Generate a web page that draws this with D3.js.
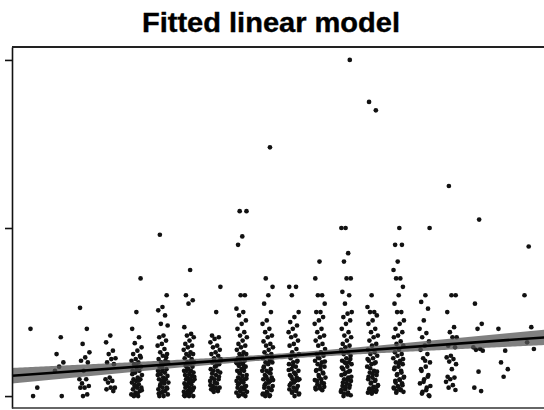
<!DOCTYPE html>
<html>
<head>
<meta charset="utf-8">
<script src="https://cdn.jsdelivr.net/npm/d3@7"></script>
<style>
  body { margin: 0; background: #fff; }
  svg { display: block; }
</style>
</head>
<body>
<div id="chart"></div>
<script>
// groups on the x axis (one jittered column each)
var groups = [1, 2, 3, 4, 5, 6, 7, 8, 9, 10, 11, 12, 13, 14, 15, 16, 17, 18, 19, 20];

// y values per group
var y01 = [4, 0.5, 0];
var y02 = [3.5, 2.5, 2, 1.75, 1.5, 0];
var y03 = [5.25, 4, 3.1, 2.6, 2.3, 2.1, 2, 1.5, 1, 1, 0.75, 0.6, 0.5, 0.5, 0.1, 0];
var y04 = [3.6, 3.2, 2.7, 2.5, 2.25, 2.2, 2, 1.9, 1.1, 1, 0.9, 0.8, 0.5, 0.5, 0.4, 0.3];
var y05 = [7, 5, 4, 3.5, 3.15, 2.9, 2.7, 2.5, 2.4, 2.2, 2.1, 2, 1.9, 1.75, 1.6, 1.5, 1.5, 1.4, 1.25, 1.1, 1, 1, 0.9, 0.8, 0.7, 0.6, 0.5, 0.5, 0.4, 0.3, 0.2, 0.1, 0, 0,
           2.3, 1.8, 1.3, 0.95, 0.65, 0.35, 0.15, 0.05];
var y06 = [9.6, 6, 5.3, 5.1, 4.8, 4.3, 4.2, 3.6, 3.5, 3.3, 3.1, 3, 2.8, 2.6, 2.5, 2.4, 2.2, 2.1, 2, 2, 1.9, 1.75, 1.6, 1.5, 1.5, 1.4, 1.3, 1.2, 1.1, 1, 1, 0.9, 0.8, 0.75, 0.6, 0.5, 0.5, 0.4, 0.3, 0.2, 0.1, 0, 0,
           2.3, 1.7, 1.25, 0.95, 0.7, 0.45, 0.25, 0.15];
var y07 = [7.5, 6, 5.7, 5.5, 4.1, 3.7, 3.6, 3.5, 3.3, 3.1, 3, 2.9, 2.75, 2.6, 2.5, 2.5, 2.4, 2.25, 2.1, 2, 2, 1.9, 1.8, 1.75, 1.6, 1.5, 1.5, 1.5, 1.4, 1.3, 1.25, 1.2, 1.1, 1, 1, 1, 0.9, 0.8, 0.75, 0.7, 0.6, 0.5, 0.5, 0.5, 0.4, 0.3, 0.25, 0.2, 0.1, 0, 0, 0,
           2.2, 1.65, 1.15, 0.85, 0.65, 0.35, 0.15, 0.05];
var y08 = [6.5, 5, 3.6, 3.5, 3.4, 3.2, 3, 2.9, 2.75, 2.6, 2.5, 2.4, 2.25, 2.1, 2, 2, 1.9, 1.75, 1.6, 1.5, 1.5, 1.4, 1.25, 1.1, 1, 1, 0.9, 0.75, 0.6, 0.5, 0.5, 0.4, 0.3, 0.25,
           2.2, 1.8, 1.35, 1.15, 0.8, 0.65, 0.45, 0.35];
var y09 = [11, 11, 9.5, 9, 6, 6, 5.2, 5, 4.8, 4.5, 4.3, 4, 3.8, 3.6, 3.5, 3.3, 3.1, 3, 2.9, 2.75, 2.6, 2.5, 2.5, 2.4, 2.25, 2.1, 2, 2, 1.9, 1.8, 1.75, 1.6, 1.5, 1.5, 1.4, 1.25, 1.2, 1.1, 1, 1, 0.9, 0.8, 0.75, 0.6, 0.5, 0.5, 0.4, 0.3, 0.25, 0.1, 0, 0,
           2.3, 1.95, 1.7, 1.35, 1.05, 0.85, 0.7, 0.55, 0.35, 0.2, 0.15, 0.05];
var y10 = [14.8, 7, 6.5, 6, 5.5, 5, 4.5, 4.3, 4, 3.8, 3.6, 3.5, 3.25, 3.1, 3, 2.9, 2.75, 2.6, 2.5, 2.4, 2.25, 2.1, 2, 2, 1.9, 1.75, 1.6, 1.5, 1.5, 1.4, 1.25, 1.1, 1, 1, 0.9, 0.75, 0.6, 0.5, 0.5, 0.4, 0.25, 0.1, 0, 0,
           2.3, 1.95, 1.7, 1.35, 1.15, 0.95, 0.8, 0.65, 0.35, 0.2, 0.15, 0.05];
var y11 = [6.5, 6.5, 6, 5, 4.7, 4.4, 4.2, 4, 3.8, 3.6, 3.5, 3.3, 3.1, 3, 2.8, 2.6, 2.5, 2.4, 2.25, 2.1, 2, 1.9, 1.75, 1.6, 1.5, 1.4, 1.25, 1.1, 1, 1, 0.9, 0.75, 0.6, 0.5, 0.4, 0.3, 0.2, 0.1, 0,
           2.35, 2.05, 1.8, 1.55, 1.3, 1.15, 0.95, 0.8, 0.65, 0.45, 0.25, 0.15];
var y12 = [8, 7, 6, 6, 5.5, 5, 5, 4.7, 4.5, 4.3, 4, 3.8, 3.6, 3.5, 3.3, 3.1, 3, 2.8, 2.6, 2.5, 2.4, 2.25, 2.1, 2, 1.9, 1.75, 1.6, 1.5, 1.4, 1.25, 1.1, 1, 0.9, 0.75, 0.6, 0.5, 0.35,
           2.3, 2.05, 1.8, 1.55, 1.35, 1.15, 0.95, 0.8, 0.7, 0.55, 0.45, 0.4];
var y13 = [20, 10, 10, 8.5, 8, 7, 7, 6.2, 6, 5.5, 5, 4.9, 4.7, 4.5, 4.3, 4, 3.8, 3.6, 3.5, 3.3, 3.1, 3, 2.9, 2.75, 2.6, 2.5, 2.4, 2.25, 2.1, 2, 2, 1.9, 1.75, 1.6, 1.5, 1.4, 1.25, 1.1, 1, 0.9, 0.75, 0.6, 0.5, 0.4, 0.25, 0.1, 0,
           2.2, 1.95, 1.7, 1.45, 1.3, 1.15, 0.95, 0.8, 0.65, 0.55, 0.35, 0.2, 0.15, 0.05];
var y14 = [17.5, 17, 6, 5.3, 5, 5, 4.8, 4.5, 4.3, 4, 3.8, 3.6, 3.5, 3.3, 3.1, 3, 2.75, 2.6, 2.5, 2.4, 2.25, 2.1, 2, 1.9, 1.75, 1.5, 1.4, 1.25, 1.1, 1, 0.9, 0.75, 0.6, 0.5, 0.4, 0.25, 0.15,
           2.2, 1.95, 1.65, 1.45, 1.3, 1.15, 0.95, 0.8, 0.65, 0.55, 0.45, 0.35, 0.3, 0.2];
var y15 = [10, 9, 9, 8, 7.5, 7, 7, 6.5, 6, 5.5, 5, 5, 4.5, 4.3, 4, 3.8, 3.6, 3.5, 3.25, 3.1, 3, 2.75, 2.6, 2.5, 2.4, 2.25, 2.1, 2, 1.9, 1.75, 1.6, 1.5, 1.25, 1.1, 1, 0.9, 0.75, 0.6, 0.5, 0.4, 0.2,
           2.2, 1.95, 1.7, 1.4, 1.3, 1.15, 0.95, 0.8, 0.65, 0.55, 0.45, 0.35, 0.3, 0.25];
var y16 = [10, 6, 5.6, 5.2, 4.5, 4, 3.75, 3.5, 3.25, 3, 2.75, 2.5, 2.25, 2, 1.75, 1.5, 1.25, 1, 0.75, 0.5, 0.25, 0,
           2.1, 1.6, 1.15, 0.85, 0.6, 0.35, 0.15, 0.05];
var y17 = [12.5, 6, 6, 5, 4.1, 3.8, 3.5, 3.5, 3, 2.9, 2.4, 2.3, 2.2, 2.05, 1.9, 1.6, 1.15, 1.1, 1, 0.85, 0.65, 0.5, 0.36];
var y18 = [10.5, 5.5, 4.3, 4, 2.9, 2.8, 2.75, 2.7, 1.45, 0.5, 0.3];
var y19 = [4, 2.7, 2, 1.6, 1.15];
var y20 = [8.9, 6, 4.1, 3.2, 2.8];

var yByGroup = [y01, y02, y03, y04, y05, y06, y07, y08, y09, y10,
                y11, y12, y13, y14, y15, y16, y17, y18, y19, y20];

var yTicks = [0, 10, 20];
var titleText = "Fitted linear model";

var width = 544, height = 410;
var plotLeft = 12, plotTop = 47, plotBottom = 408, plotRight = 556;

var x = d3.scaleLinear().domain([0.24, 21]).range([plotLeft, plotRight]);
var y = d3.scaleLinear().domain([-0.71, 20.77]).range([plotBottom, plotTop]);

// flatten into points
var points = [];
groups.forEach((g, i) => {
    yByGroup[i].forEach((v, k) => points.push({ g: g, v: v, k: k }));
});

// least squares fit + 95% confidence band
var n = points.length;
var mx = d3.mean(points, d => d.g);
var my = d3.mean(points, d => d.v);
var sxx = d3.sum(points, d => (d.g - mx) * (d.g - mx));
var sxy = d3.sum(points, d => (d.g - mx) * (d.v - my));
var slope = sxy / sxx;
var intercept = my - slope * mx;
var rss = d3.sum(points, d => Math.pow(d.v - (intercept + slope * d.g), 2));
var s = Math.sqrt(rss / (n - 2));
function fit(xv) { return intercept + slope * xv; }
function se(xv) { return s * Math.sqrt(1 / n + (xv - mx) * (xv - mx) / sxx); }

var svg = d3.select("#chart").append("svg")
    .attr("width", width)
    .attr("height", height);

svg.append("text")
    .attr("x", 271)
    .attr("y", 32)
    .attr("text-anchor", "middle")
    .attr("font-family", "'Liberation Sans', Arial, Helvetica, sans-serif")
    .attr("font-weight", "bold")
    .attr("font-size", 28.5)
    .attr("textLength", 258)
    .attr("lengthAdjust", "spacingAndGlyphs")
    .attr("fill", "#000")
    .attr("stroke", "#000")
    .attr("stroke-width", 0.4)
    .text(titleText);

// deterministic horizontal jitter (golden ratio spread)
function jitter(d) {
    var f = (d.k * 0.6180339887 + d.g * 0.37) % 1;
    return (f - 0.5) * 11;
}

svg.append("g")
    .selectAll("circle")
    .data(points)
    .join("circle")
    .attr("cx", d => x(d.g) + jitter(d))
    .attr("cy", d => y(d.v))
    .attr("r", 2.35)
    .attr("fill", "#111");

var xs = d3.range(0.24, 21.01, 0.1);
var band = d3.area()
    .x(d => x(d))
    .y0(d => y(fit(d) - 1.96 * se(d)))
    .y1(d => y(fit(d) + 1.96 * se(d)));

svg.append("path")
    .datum(xs)
    .attr("d", band)
    .attr("fill", "#555")
    .attr("fill-opacity", 0.75);

svg.append("line")
    .attr("x1", x(0.24)).attr("y1", y(fit(0.24)))
    .attr("x2", x(21)).attr("y2", y(fit(21)))
    .attr("stroke", "#000")
    .attr("stroke-width", 2.6);

// frame
svg.append("g")
    .attr("transform", `translate(${plotLeft},0)`)
    .call(d3.axisLeft(y).tickValues(yTicks).tickSize(7).tickSizeOuter(0).tickFormat(""))
    .call(g => g.selectAll("line, path").attr("stroke", "#111").attr("stroke-width", 1.6));

svg.append("line")
    .attr("x1", plotLeft).attr("x2", width)
    .attr("y1", plotTop).attr("y2", plotTop)
    .attr("stroke", "#222").attr("stroke-width", 1.8);

svg.append("line")
    .attr("x1", plotLeft).attr("x2", width)
    .attr("y1", plotBottom).attr("y2", plotBottom)
    .attr("stroke", "#333").attr("stroke-width", 1.6);
</script>
</body>
</html>
